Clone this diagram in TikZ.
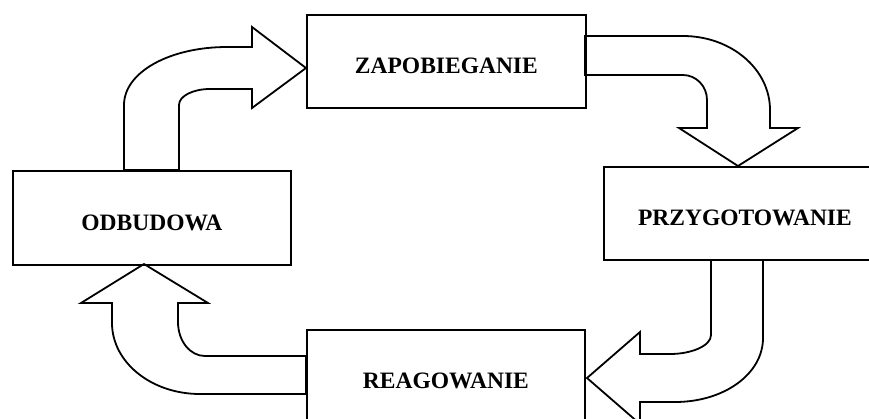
\documentclass[tikz,border=0pt]{standalone}
\usepackage{fontspec}
\setmainfont{Liberation Serif}
\usetikzlibrary{positioning}

\begin{document}
\begin{tikzpicture}[x=1pt, y=-1pt, line width=1.8pt,
    phase/.style={rectangle, draw, anchor=north west, inner sep=0pt, text height=25pt, text depth=0pt,
                  font=\fontsize{23.5}{27}\selectfont\bfseries},
    bentarrow/.style={draw, fill=white}]
    \useasboundingbox (0,0) rectangle (869,418);
    \clip (0,0) rectangle (869,418);

    % arrows between the phases
    \draw [bentarrow] (124,170) -- (124,105) .. controls (124,72) and (170,47) .. (227,47) -- (252,47) -- (252,27)
        -- (306,68) -- (252,108) -- (252,89) -- (210,89) .. controls (193,89) and (179,96) .. (179,105) -- (179,170) -- cycle;
    \draw [bentarrow] (585,36) -- (683,36) .. controls (731,36) and (770,69) .. (770,110) -- (770,128) -- (798,128)
        -- (738,166) -- (679,128) -- (707,128) -- (707,100) .. controls (707,86) and (696,75) .. (683,75) -- (585,75) -- cycle;
    \draw [bentarrow] (711,260) -- (711,335) .. controls (711,346) and (691,354) .. (670,354) -- (640,354) -- (640,332)
        -- (587,378) -- (640,424) -- (640,402) -- (675,402) .. controls (724,402) and (763,374) .. (763,338) -- (763,260) -- cycle;
    \draw [bentarrow] (306,394) -- (200,394) .. controls (151,394) and (112,362) .. (112,323) -- (112,303) -- (81,303)
        -- (144,264) -- (208,303) -- (178,303) -- (178,322) .. controls (178,341) and (190,356) .. (205,356) -- (306,356) -- cycle;

    % phases
    \node (zapob) [phase, minimum width=279pt, minimum height=93pt] at (306,14) {ZAPOBIEGANIE};
    \node (przyg) [phase, minimum width=282pt, minimum height=93pt] at (603,166) {PRZYGOTOWANIE};
    \node (odbud) [phase, minimum width=278pt, minimum height=94pt] at (12,170) {ODBUDOWA};
    \node (reag) [phase, minimum width=278pt, minimum height=93pt] at (306,329) {REAGOWANIE};
\end{tikzpicture}
\end{document}
